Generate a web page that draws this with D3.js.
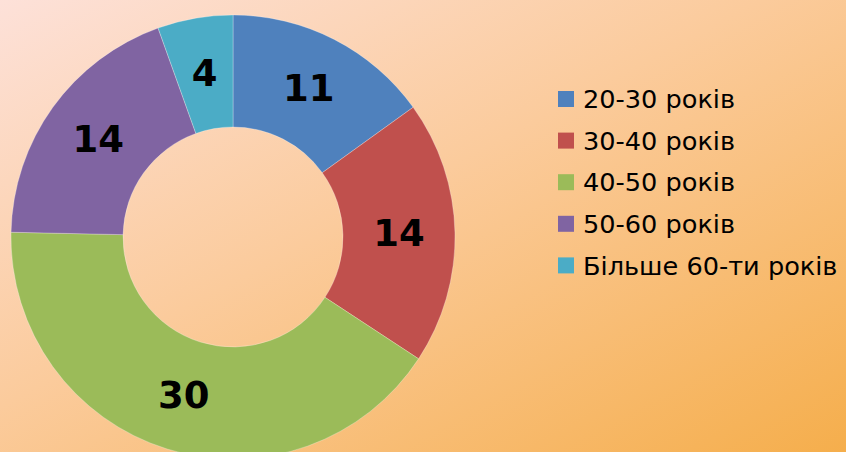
<!DOCTYPE html>
<html>
<head>
<meta charset="utf-8">
<script src="https://cdn.jsdelivr.net/npm/d3@7"></script>
<style>
body { margin: 0; }
svg { display: block; }
</style>
</head>
<body>
<script>
var categories = ['20-30 років', '30-40 років', '40-50 років', '50-60 років', 'Більше 60-ти років']
var values = [11, 14, 30, 14, 4]
var colors = ['#4f81bd', '#c0504d', '#9bbb59', '#8064a2', '#4bacc6']

var width = 846, height = 452
var cx = 233, cy = 237, outerR = 222, innerR = 110

var svg = d3.select('body').append('svg')
	.attr('width', width)
	.attr('height', height)

var defs = svg.append('defs')
var grad = defs.append('linearGradient')
	.attr('id', 'bg')
	.attr('x1', '0%').attr('y1', '0%')
	.attr('x2', '100%').attr('y2', '100%')
grad.append('stop').attr('offset', '0%').attr('stop-color', '#fde1d9')
grad.append('stop').attr('offset', '45%').attr('stop-color', '#fbcb9c')
grad.append('stop').attr('offset', '100%').attr('stop-color', '#f5ae4c')

svg.append('rect')
	.attr('width', width)
	.attr('height', height)
	.attr('fill', 'url(#bg)')

var pie = d3.pie().sort(null).value(function(d) { return d })
var arc = d3.arc().innerRadius(innerR).outerRadius(outerR)
var labelArc = d3.arc().innerRadius((innerR + outerR) / 2).outerRadius((innerR + outerR) / 2)

var g = svg.append('g').attr('transform', 'translate(' + cx + ',' + cy + ')')

var arcs = pie(values)
g.selectAll('path.slice')
	.data(arcs)
	.enter().append('path')
	.attr('class', 'slice')
	.attr('d', arc)
	.attr('fill', function(d, i) { return colors[i] })
	.attr('stroke', 'rgba(255,255,255,0.35)')
	.attr('stroke-width', 0.8)

g.selectAll('text.lbl')
	.data(arcs)
	.enter().append('text')
	.attr('class', 'lbl')
	.attr('x', function(d) { return labelArc.centroid(d)[0] })
	.attr('y', function(d) { return labelArc.centroid(d)[1] })
	.attr('dy', '0.33em')
	.attr('text-anchor', 'middle')
	.style('font-family', 'DejaVu Sans')
	.style('font-weight', 'bold')
	.style('font-size', '37px')
	.attr('fill', '#000')
	.text(function(d) { return d.data })

var legend = svg.append('g').attr('transform', 'translate(558,99)')
var item = legend.selectAll('g')
	.data(categories)
	.enter().append('g')
	.attr('transform', function(d, i) { return 'translate(0,' + (i * 41.6) + ')' })
item.append('rect')
	.attr('x', 0).attr('y', -8)
	.attr('width', 16).attr('height', 16)
	.attr('fill', function(d, i) { return colors[i] })
item.append('text')
	.attr('x', 25)
	.attr('dy', '0.36em')
	.style('font-family', 'DejaVu Sans')
	.style('font-size', '25.6px')
	.attr('fill', '#000')
	.text(function(d) { return d })
</script>
</body>
</html>
